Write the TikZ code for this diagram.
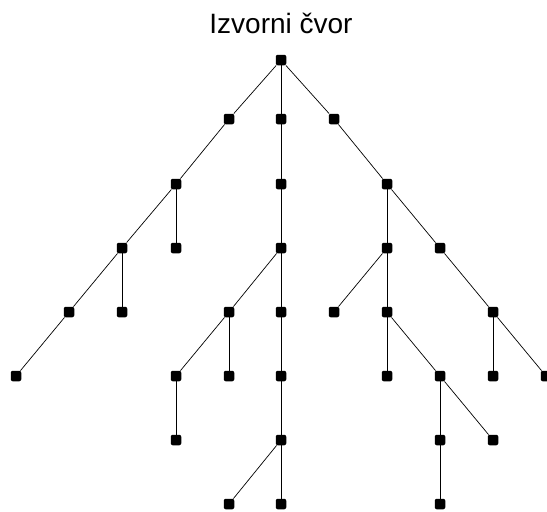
\documentclass[tikz,border=0pt]{standalone}
\usepackage{fontspec}
\setmainfont{Liberation Sans}
\usepackage{tikz}

\tikzset{
    vertex/.style={fill=black, draw=none, minimum size=10.5pt, inner sep=0pt, rounded corners=2pt},
    edge/.style={line width=0.7pt}
}

\begin{document}
\begin{tikzpicture}[x=1pt, y=-1pt]
        \useasboundingbox (0,0) rectangle (547,512);

        \node[anchor=base, font=\fontsize{28}{30}\selectfont] (title) at (281,33) {Izvorni čvor};

        \node[vertex] (r) at (281,60) {};
        \node[vertex] (n11) at (229,119) {}; \node[vertex] (n12) at (281,119) {}; \node[vertex] (n13) at (334,119) {};
        \node[vertex] (n21) at (176,184) {}; \node[vertex] (n22) at (281,184) {}; \node[vertex] (n23) at (387,184) {};
        \node[vertex] (n31) at (122,248) {}; \node[vertex] (n32) at (176,248) {}; \node[vertex] (n33) at (281,248) {};
        \node[vertex] (n34) at (387,248) {}; \node[vertex] (n35) at (440,248) {};
        \node[vertex] (n41) at (69,312) {}; \node[vertex] (n42) at (122,312) {}; \node[vertex] (n43) at (229,312) {};
        \node[vertex] (n44) at (281,312) {}; \node[vertex] (n45) at (334,312) {}; \node[vertex] (n46) at (387,312) {};
        \node[vertex] (n47) at (493,312) {};
        \node[vertex] (n51) at (16,376) {}; \node[vertex] (n52) at (176,376) {}; \node[vertex] (n53) at (229,376) {};
        \node[vertex] (n54) at (281,376) {}; \node[vertex] (n55) at (387,376) {}; \node[vertex] (n56) at (440,376) {};
        \node[vertex] (n57) at (493,376) {}; \node[vertex] (n58) at (546,376) {};
        \node[vertex] (n61) at (176,440) {}; \node[vertex] (n62) at (281,440) {};
        \node[vertex] (n63) at (440,440) {}; \node[vertex] (n64) at (493,440) {};
        \node[vertex] (n71) at (229,504) {}; \node[vertex] (n72) at (281,504) {}; \node[vertex] (n73) at (440,504) {};

        \draw[edge] (r) -- (n11); \draw[edge] (r) -- (n12); \draw[edge] (r) -- (n13);
        \draw[edge] (n11) -- (n21); \draw[edge] (n12) -- (n22); \draw[edge] (n13) -- (n23);
        \draw[edge] (n21) -- (n31); \draw[edge] (n21) -- (n32); \draw[edge] (n22) -- (n33);
        \draw[edge] (n23) -- (n34); \draw[edge] (n23) -- (n35);
        \draw[edge] (n31) -- (n41); \draw[edge] (n31) -- (n42); \draw[edge] (n33) -- (n43);
        \draw[edge] (n33) -- (n44); \draw[edge] (n34) -- (n45); \draw[edge] (n34) -- (n46);
        \draw[edge] (n35) -- (n47);
        \draw[edge] (n41) -- (n51); \draw[edge] (n43) -- (n52); \draw[edge] (n43) -- (n53);
        \draw[edge] (n44) -- (n54); \draw[edge] (n46) -- (n55); \draw[edge] (n46) -- (n56);
        \draw[edge] (n47) -- (n57); \draw[edge] (n47) -- (n58);
        \draw[edge] (n52) -- (n61); \draw[edge] (n54) -- (n62);
        \draw[edge] (n56) -- (n63); \draw[edge] (n56) -- (n64);
        \draw[edge] (n62) -- (n71); \draw[edge] (n62) -- (n72); \draw[edge] (n63) -- (n73);
    \end{tikzpicture}
\end{document}
